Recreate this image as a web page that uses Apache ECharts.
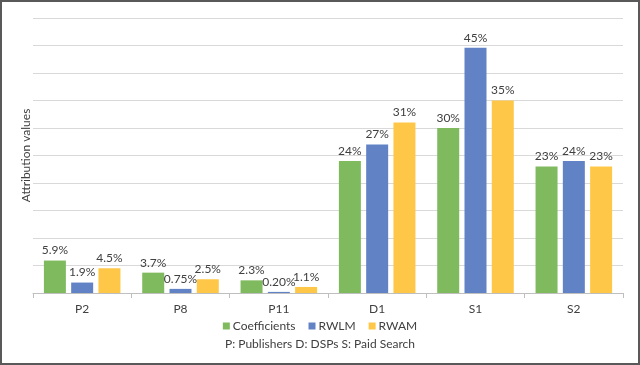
<!DOCTYPE html>
<html>
<head>
<meta charset="utf-8">
<script src="https://cdn.jsdelivr.net/npm/echarts@6/dist/echarts.min.js"></script>
<style>
html,body{margin:0;padding:0;background:#fff;}
#c{width:640px;height:365px;}
</style>
</head>
<body>
<div id="c"></div>
<script>
var categories = ['P2', 'P8', 'P11', 'D1', 'S1', 'S2'];
var coefficients = [5.9, 3.7, 2.3, 24, 30, 23];
var rwlm = [1.9, 0.75, 0.20, 27, 44.6, 24];
var rwam = [4.5, 2.5, 1.1, 31, 35, 23];
var coefficientsLabels = ['5.9%', '3.7%', '2.3%', '24%', '30%', '23%'];
var rwlmLabels = ['1.9%', '0.75%', '0.20%', '27%', '45%', '24%'];
var rwamLabels = ['4.5%', '2.5%', '1.1%', '31%', '35%', '23%'];
var yMin = 0, yMax = 50, yInterval = 5;

var FONT = 'Lato';
function mk(name, data, labels, color) {
  return {
    name: name, type: 'bar', data: data,
    barWidth: 22, barGap: '24%',
    itemStyle: { color: color },
    label: {
      show: true, position: 'top', distance: 4,
      color: '#404040', fontFamily: FONT, fontSize: 12,
      formatter: function (p) { return labels[p.dataIndex]; }
    }
  };
}
var chart = echarts.init(document.getElementById('c'), null, { renderer: 'canvas' });
chart.setOption({
  animation: false,
  backgroundColor: '#fff',
  textStyle: { fontFamily: FONT },
  grid: { left: 33, right: 17, top: 18, bottom: 72, containLabel: false },
  legend: {
    bottom: 28, left: 'center',
    itemWidth: 7, itemHeight: 7, itemGap: 13,
    icon: 'rect',
    textStyle: { color: '#404040', fontFamily: FONT, fontSize: 12, padding: [0, 0, 0, -2] },
    data: ['Coefficients', 'RWLM', 'RWAM']
  },
  graphic: [
    {
      type: 'text', left: 'center', top: 338,
      style: { text: 'P: Publishers D: DSPs S: Paid Search', fill: '#404040', font: '12px Lato' }
    },
    {
      type: 'rect', shape: { x: 1, y: 1, width: 638, height: 363 },
      style: { fill: 'none', stroke: '#595959', lineWidth: 2 }, silent: true
    }
  ],
  xAxis: {
    type: 'category', data: categories,
    axisLine: { lineStyle: { color: '#bfbfbf' } },
    axisTick: { show: true, length: 5, lineStyle: { color: '#bfbfbf' } },
    axisLabel: { color: '#404040', fontFamily: FONT, fontSize: 12, margin: 10 }
  },
  yAxis: {
    type: 'value', min: yMin, max: yMax, interval: yInterval,
    name: 'Attribution values', nameLocation: 'middle', nameGap: 1,
    nameTextStyle: { color: '#404040', fontFamily: FONT, fontSize: 12 },
    axisLabel: { show: false },
    axisLine: { show: false }, axisTick: { show: false },
    splitLine: { lineStyle: { color: '#d9d9d9' } }
  },
  series: [
    mk('Coefficients', coefficients, coefficientsLabels, '#80BA5E'),
    mk('RWLM', rwlm, rwlmLabels, '#6183C5'),
    mk('RWAM', rwam, rwamLabels, '#FFC747')
  ]
});
</script>
</body>
</html>
